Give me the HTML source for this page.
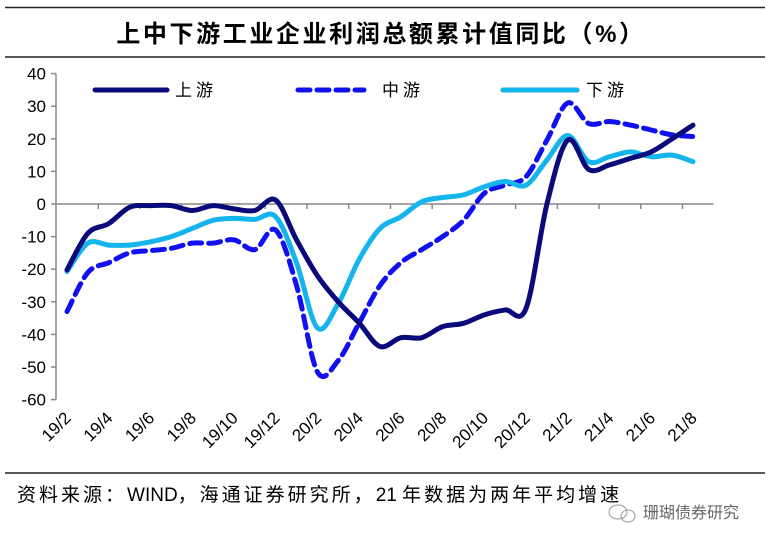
<!DOCTYPE html>
<html><head><meta charset="utf-8"><style>
html,body{margin:0;padding:0;background:#fff;}
svg{display:block;}
text{font-family:"Liberation Sans","Noto Sans CJK SC",sans-serif;}
</style></head><body>
<svg id="chart" width="769" height="544" viewBox="0 0 769 544">
<line x1="5" y1="7.5" x2="765" y2="7.5" stroke="#222" stroke-width="1.5"/>
<text x="381" y="42" text-anchor="middle" font-size="24" font-weight="bold" letter-spacing="2.6" fill="#000">上中下游工业企业利润总额累计值同比（%）</text>
<line x1="5" y1="57" x2="765" y2="57" stroke="#222" stroke-width="1.5"/>
<line x1="5" y1="473" x2="765" y2="473" stroke="#222" stroke-width="1.5"/>
<text x="17" y="501" font-size="19" fill="#000"><tspan letter-spacing="3">资料来源：</tspan>WIND<tspan letter-spacing="3">，海通证券研究所，</tspan>21 <tspan letter-spacing="3">年数据为两年平均增速</tspan></text>
<g>
<ellipse cx="618" cy="512" rx="9" ry="7" fill="none" stroke="#999" stroke-width="1"/>
<ellipse cx="628" cy="516" rx="7" ry="6" fill="none" stroke="#999" stroke-width="1"/>
<text x="643" y="518" font-size="16" fill="#666">珊瑚债券研究</text>
</g>
<g id="axes"></g>
<g id="series"></g>
<g>
<g><line x1="95" y1="90" x2="167" y2="90" stroke="#0a0a7a" stroke-width="5" stroke-linecap="round"/><text x="175" y="96" font-size="17" letter-spacing="4" fill="#000">上游</text></g>
<g><line x1="298" y1="90" x2="364" y2="90" stroke="#1010f0" stroke-width="5" stroke-dasharray="12,7" stroke-linecap="round"/><text x="382" y="96" font-size="17" letter-spacing="4" fill="#000">中游</text></g>
<g><line x1="503" y1="90" x2="577" y2="90" stroke="#14b4ec" stroke-width="5" stroke-linecap="round"/><text x="586" y="96" font-size="17" letter-spacing="4" fill="#000">下游</text></g>
</g>
</svg>
<script>
const categories=["19/2","19/3","19/4","19/5","19/6","19/7","19/8","19/9","19/10","19/11","19/12","20/1","20/2","20/3","20/4","20/5","20/6","20/7","20/8","20/9","20/10","20/11","20/12","21/1","21/2","21/3","21/4","21/5","21/6","21/7","21/8"];
const upstream=[-20.2,-9,-6,-1,-0.5,-0.5,-2,-0.5,-1.5,-2,1.2,-11,-22,-30,-36.5,-43.7,-41,-41,-37.6,-36.6,-34,-32.5,-32,0,19.6,10.6,12,14,16,20,24.2];
const midstream=[-33,-21,-18,-15,-14.3,-13.6,-12,-12,-11,-14,-8,-25,-51.5,-48,-36.5,-25,-18,-14,-10,-5,3.3,5.8,8.4,19.6,31,24.7,25.3,24.2,22.7,21.2,20.7];
const downstream=[-20.7,-12,-12.6,-12.6,-11.6,-10,-7.5,-5,-4.4,-4.7,-3.9,-18,-38,-30.5,-17,-7.5,-3.9,0.7,2,2.8,5.3,6.9,5.8,13.5,21,13,14.5,16,14.5,15,13];
const yTicks=[40,30,20,10,0,-10,-20,-30,-40,-50,-60];
const NS="http://www.w3.org/2000/svg";
const x0=67,dx=(693-67)/30;
function xs(i){return x0+dx*i;}
function ys(v){return 204-v*3.26;}
const axes=document.getElementById('axes');
function mk(tag,attrs,parent){const e=document.createElementNS(NS,tag);for(const k in attrs)e.setAttribute(k,attrs[k]);parent.appendChild(e);return e;}
let yl=mk('line',{x1:56,y1:ys(40),x2:56,y2:ys(-60),stroke:'#888','stroke-width':1.5},axes);


yTicks.forEach(v=>{
 mk('line',{x1:51,y1:ys(v),x2:56,y2:ys(v),stroke:'#888','stroke-width':1.5},axes);
 const t=mk('text',{x:46,y:ys(v)+6,'text-anchor':'end','font-size':17,fill:'#000'},axes);
 t.textContent=v;
 
 
});
let xl=mk('line',{x1:56,y1:ys(0),x2:xs(categories.length-1)+dx*0.5+10,y2:ys(0),stroke:'#888','stroke-width':1.5},axes);


for(let i=0;i<categories.length;i++){
 if(i%2==1) mk('line',{x1:xs(i)+dx*0.5,y1:ys(0),x2:xs(i)+dx*0.5,y2:ys(0)+5,stroke:'#888','stroke-width':1.5},axes);
 if(i%2==0){
  const cx=xs(i)+5,cy=419;
  const t=mk('text',{x:cx,y:cy,'text-anchor':'end','font-size':17,fill:'#000',transform:`rotate(-45 ${cx} ${cy})`},axes);
  t.textContent=categories[i];
  
  
 }
}
function smooth(vals){
 const p=vals.map((v,i)=>[xs(i),ys(v)]);
 let d=`M${p[0][0]},${p[0][1]}`;
 for(let i=0;i<p.length-1;i++){
  const a=p[i-1]||p[i],b=p[i],c=p[i+1],e=p[i+2]||c;
  const c1=[b[0]+(c[0]-a[0])/6,b[1]+(c[1]-a[1])/6],c2=[c[0]-(e[0]-b[0])/6,c[1]-(e[1]-b[1])/6];
  d+=` C${c1[0]},${c1[1]} ${c2[0]},${c2[1]} ${c[0]},${c[1]}`;
 }
 return d;
}
const sg=document.getElementById('series');
let p1=mk('path',{d:smooth(midstream),fill:'none',stroke:'#1010f0','stroke-width':5,'stroke-dasharray':'12,7','stroke-linecap':'round'},sg);


let p2=mk('path',{d:smooth(downstream),fill:'none',stroke:'#14b4ec','stroke-width':5,'stroke-linecap':'round'},sg);


let p3=mk('path',{d:smooth(upstream),fill:'none',stroke:'#0a0a7a','stroke-width':5,'stroke-linecap':'round'},sg);


</script>
</body></html>
